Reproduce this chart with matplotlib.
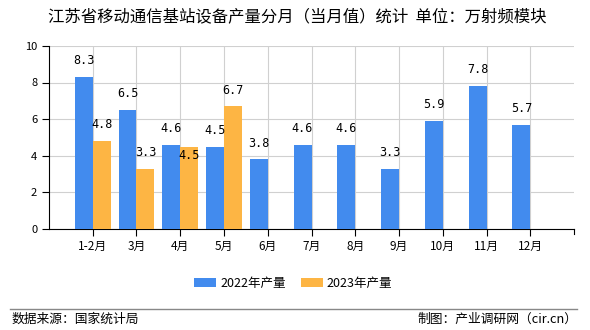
import numpy as np
import matplotlib.pyplot as plt

plt.rcParams['font.family'] = ['Noto Sans CJK SC', 'DejaVu Sans']

# Monthly output (10k RF modules)
months = ['1-2月', '3月', '4月', '5月', '6月', '7月', '8月', '9月', '10月', '11月', '12月']
y2022 = [8.3, 6.5, 4.6, 4.5, 3.8, 4.6, 4.6, 3.3, 5.9, 7.8, 5.7]
y2023 = [4.8, 3.3, 4.5, 6.7]

blue = '#428BEE'
orange = '#FDB544'

fig = plt.figure(figsize=(5.9, 3.3), dpi=100)
ax = fig.add_axes([0.083, 0.306, 0.89, 0.555])

x = np.arange(len(months))
w = 0.41
ax.bar(x, y2022, width=-w, align='edge', color=blue, label='2022年产量', zorder=3)
ax.bar(x[:len(y2023)], y2023, width=w, align='edge', color=orange, label='2023年产量', zorder=3)

mono = 'DejaVu Sans Mono'
for i, v in enumerate(y2022):
    ax.annotate(f'{v}', (x[i] - w / 2, v), xytext=(0, 7), textcoords='offset points',
                ha='center', va='bottom', fontsize=8.5, family=mono, zorder=4)
for i, v in enumerate(y2023):
    # avoid colliding with the neighbouring 2022 label
    dy = -11 if abs(v - y2022[i]) < 0.3 else 7
    ax.annotate(f'{v}', (x[i] + w / 2, v), xytext=(0, dy), textcoords='offset points',
                ha='center', va='bottom', fontsize=8.5, family=mono, zorder=4)

ax.set_xlim(-1, len(months))
ax.set_ylim(0, 10)
ax.set_yticks(range(0, 11, 2))
ax.set_xticks(x)
ax.set_xticklabels(months, fontsize=8.5)
ax.tick_params(axis='y', labelsize=8, length=5)
ax.tick_params(axis='x', length=5, pad=3)
ax.grid(True, color='#d0d0d0', linewidth=0.8, zorder=0)
for s in ['top', 'right']:
    ax.spines[s].set_visible(False)

# extra tick at the right end of the x axis
ax.plot([len(months), len(months)], [0, -0.28], color='black', lw=0.8, clip_on=False)

fig.text(0.503, 0.948, '江苏省移动通信基站设备产量分月（当月值）统计  单位：万射频模块',
         ha='center', va='center', fontsize=11.8)

fig.legend(loc='center', bbox_to_anchor=(0.497, 0.142), ncol=2, frameon=False,
           fontsize=9, handlelength=1.75, handleheight=0.8, handletextpad=0.35,
           columnspacing=1.2)

fig.add_artist(plt.Line2D([0.017, 0.978], [0.064, 0.064], color='#888888', lw=1))
fig.text(0.02, 0.032, '数据来源：国家统计局', ha='left', va='center', fontsize=9.2)
fig.text(0.978, 0.032, '制图：产业调研网（cir.cn）', ha='right', va='center', fontsize=9.2)

fig.savefig('out.png', dpi=100)
